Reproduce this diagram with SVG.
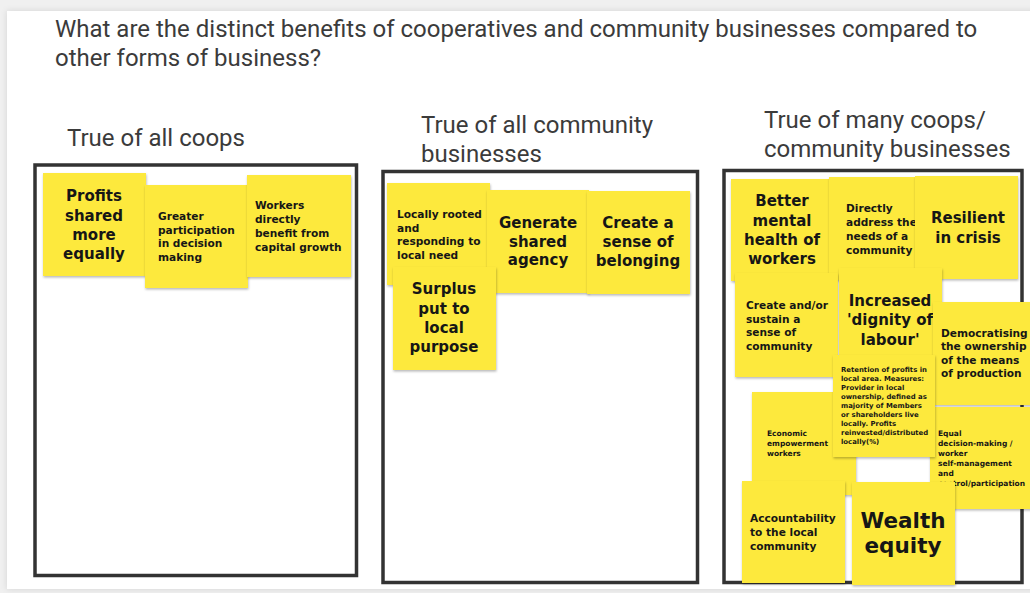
<svg xmlns="http://www.w3.org/2000/svg" width="1030" height="593" viewBox="0 0 1030 593">
  <defs>
    <filter id="noteShadow" x="-10%" y="-10%" width="125%" height="125%">
      <feDropShadow dx="0.5" dy="1.5" stdDeviation="1" flood-color="#000" flood-opacity="0.28"/>
    </filter>
    <filter id="slideShadow" x="-5%" y="-5%" width="110%" height="110%">
      <feDropShadow dx="0" dy="0" stdDeviation="3" flood-color="#000" flood-opacity="0.12"/>
    </filter>
    <style>
      .head { font-family: Roboto, "Liberation Sans", sans-serif; fill: #3b3b3b; font-size: 24px; }
      .frame { fill: none; stroke: #333; stroke-width: 3.5; }
      .note rect { fill: #fde93d; filter: url(#noteShadow); }
      .note text { font-family: "DejaVu Sans", sans-serif; font-weight: bold; fill: #161616; }
      .big text { font-size: 15px; text-anchor: middle; }
      .mid text { font-size: 10.6px; }
      .small text { font-size: 7.5px; }
      .tiny text { font-size: 6.9px; }
    </style>
  </defs>

  <!-- page and slide -->
  <rect x="0" y="0" width="1030" height="593" fill="#f0f0f0"/>
  <rect x="7" y="11" width="1030" height="578" fill="#fff" filter="url(#slideShadow)"/>

  <!-- headings -->
  <text class="head" x="55" y="37">What are the distinct benefits of cooperatives and community businesses compared to</text>
  <text class="head" x="55" y="66">other forms of business?</text>
  <text class="head" x="67" y="146">True of all coops</text>
  <text class="head" x="421" y="133">True of all community</text>
  <text class="head" x="421" y="162">businesses</text>
  <text class="head" x="764" y="128">True of many coops/</text>
  <text class="head" x="764" y="157">community businesses</text>

  <!-- column frames -->
  <g id="frames">
    <rect id="frame-coops" class="frame" x="35" y="165" width="321.5" height="410.5"/>
    <rect id="frame-community" class="frame" x="383" y="171.5" width="314.5" height="411"/>
    <rect id="frame-many" class="frame" x="724" y="170.5" width="298" height="412"/>
  </g>

  <!-- column 1: true of all coops -->
  <g id="note-profits" class="note big">
    <rect x="43" y="173" width="103" height="103"/>
    <text x="94" y="201">Profits</text>
    <text x="94" y="221">shared</text>
    <text x="94" y="240">more</text>
    <text x="94" y="259">equally</text>
  </g>
  <g id="note-participation" class="note mid">
    <rect x="145" y="185" width="103" height="103"/>
    <text x="158" y="220">Greater</text>
    <text x="158" y="233.5">participation</text>
    <text x="158" y="247">in decision</text>
    <text x="158" y="260.5">making</text>
  </g>
  <g id="note-capital" class="note mid">
    <rect x="247" y="175" width="104" height="102"/>
    <text x="255" y="209">Workers</text>
    <text x="255" y="223">directly</text>
    <text x="255" y="237">benefit from</text>
    <text x="255" y="251">capital growth</text>
  </g>

  <!-- column 2: true of all community businesses -->
  <g id="note-rooted" class="note mid">
    <rect x="387" y="183" width="103" height="102"/>
    <text x="397" y="218">Locally rooted</text>
    <text x="397" y="232">and</text>
    <text x="397" y="245">responding to</text>
    <text x="397" y="259">local need</text>
  </g>
  <g id="note-agency" class="note big">
    <rect x="487" y="190" width="102" height="103"/>
    <text x="538" y="228">Generate</text>
    <text x="538" y="247">shared</text>
    <text x="538" y="265">agency</text>
  </g>
  <g id="note-belonging" class="note big">
    <rect x="587" y="191" width="103" height="103"/>
    <text x="638" y="228">Create a</text>
    <text x="638" y="247">sense of</text>
    <text x="638" y="266">belonging</text>
  </g>
  <g id="note-surplus" class="note big">
    <rect x="393" y="267" width="103" height="103"/>
    <text x="444" y="294">Surplus</text>
    <text x="444" y="314">put to</text>
    <text x="444" y="333">local</text>
    <text x="444" y="352">purpose</text>
  </g>

  <!-- column 3: true of many coops / community businesses -->
  <g id="note-mental-health" class="note big">
    <rect x="731" y="179" width="100" height="102"/>
    <text x="782" y="206">Better</text>
    <text x="782" y="226">mental</text>
    <text x="782" y="245">health of</text>
    <text x="782" y="264">workers</text>
  </g>
  <g id="note-needs" class="note mid">
    <rect x="829" y="177" width="103" height="103"/>
    <text x="846" y="212">Directly</text>
    <text x="846" y="226">address the</text>
    <text x="846" y="240">needs of a</text>
    <text x="846" y="254">community</text>
  </g>
  <g id="note-resilient" class="note big">
    <rect x="915" y="176" width="103" height="103"/>
    <text x="968" y="223">Resilient</text>
    <text x="968" y="243">in crisis</text>
  </g>
  <g id="note-sense-community" class="note mid">
    <rect x="735" y="273" width="103" height="104"/>
    <text x="746" y="309">Create and/or</text>
    <text x="746" y="323">sustain a</text>
    <text x="746" y="336">sense of</text>
    <text x="746" y="350">community</text>
  </g>
  <g id="note-dignity" class="note big">
    <rect x="839" y="268" width="103" height="103"/>
    <text x="890" y="306">Increased</text>
    <text x="890" y="325">'dignity of</text>
    <text x="890" y="345">labour'</text>
  </g>
  <g id="note-democratising" class="note mid">
    <rect x="933" y="302" width="103" height="103"/>
    <text x="941" y="337">Democratising</text>
    <text x="941" y="350">the ownership</text>
    <text x="941" y="364">of the means</text>
    <text x="941" y="377">of production</text>
  </g>
  <g id="note-equal-decision" class="note small">
    <rect x="930" y="407" width="103" height="102"/>
    <text x="938" y="436">Equal</text>
    <text x="938" y="446">decision-making /</text>
    <text x="938" y="456">worker</text>
    <text x="938" y="466">self-management</text>
    <text x="938" y="476">and</text>
    <text x="938" y="486">control/participation</text>
  </g>
  <g id="note-empowerment" class="note small">
    <rect x="752" y="392" width="104" height="103"/>
    <text x="767" y="436">Economic</text>
    <text x="767" y="446">empowerment</text>
    <text x="767" y="456">workers</text>
  </g>
  <g id="note-retention" class="note tiny">
    <rect x="833" y="355" width="102" height="102"/>
    <text x="841" y="372">Retention of profits in</text>
    <text x="841" y="381">local area. Measures:</text>
    <text x="841" y="390">Provider in local</text>
    <text x="841" y="399">ownership, defined as</text>
    <text x="841" y="408">majority of Members</text>
    <text x="841" y="417">or shareholders live</text>
    <text x="841" y="426">locally. Profits</text>
    <text x="841" y="435">reinvested/distributed</text>
    <text x="841" y="444">locally(%)</text>
  </g>
  <g id="note-accountability" class="note mid">
    <rect x="742" y="481" width="103" height="102"/>
    <text x="750" y="522">Accountability</text>
    <text x="750" y="536">to the local</text>
    <text x="750" y="550">community</text>
  </g>
  <g id="note-wealth" class="note">
    <rect x="852" y="482" width="103" height="103"/>
    <text x="903" y="528" font-size="21.5" text-anchor="middle">Wealth</text>
    <text x="903" y="553" font-size="21.5" text-anchor="middle">equity</text>
  </g>

  <!-- no connectors in this board -->
  <g id="connectors"/>
</svg>
